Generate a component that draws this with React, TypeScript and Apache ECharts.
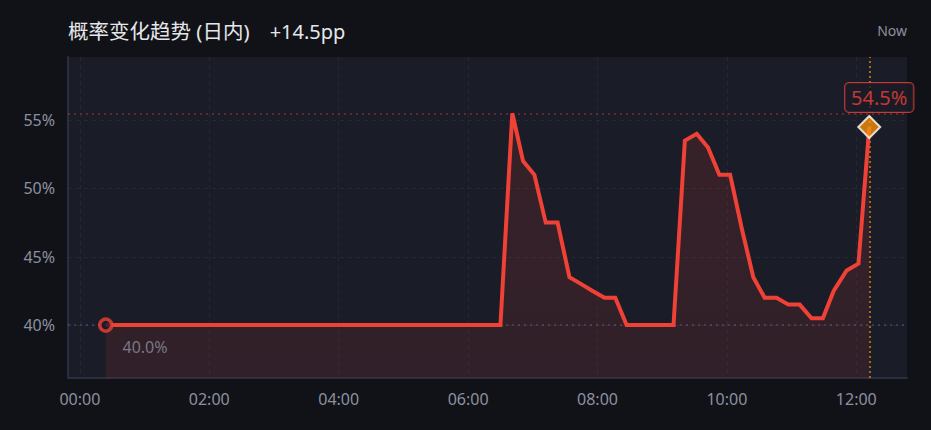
import React, { useEffect, useRef } from "react";
import * as echarts from "echarts";

// minutes since 00:00
const times = [24, 390, 401, 411, 421.5, 432, 443, 454, 465, 475.5, 486.5, 496.5, 507, 550.5, 561, 572, 582.5, 593, 603, 614, 624.5, 635, 646, 657, 667.5, 678.5, 689, 699, 711, 722, 732];
// probability, %
const values = [40, 40, 55.5, 52, 51, 47.5, 47.5, 43.5, 43, 42.5, 42, 42, 40, 40, 53.5, 54, 53, 51, 51, 47, 43.5, 42, 42, 41.5, 41.5, 40.5, 40.5, 42.5, 44, 44.5, 54.5];
const xTicks = [0, 120, 240, 360, 480, 600, 720];
const yTicks = [40, 45, 50, 55];
const titleText = "概率变化趋势 (日内)";
const changeText = "+14.5pp";
const nowText = "Now";

const FONT = "'Noto Sans', 'Noto Sans CJK SC', sans-serif";
const RED = "#ef4136";
const GRAY = "#8b90a0";

const fmtTime = (m: number) => {
  const h = Math.floor(m / 60);
  const mm = Math.round(m - h * 60);
  return `${String(h).padStart(2, "0")}:${String(mm).padStart(2, "0")}`;
};

export default function App() {
  const ref = useRef<HTMLDivElement>(null);
  useEffect(() => {
    document.body.style.margin = "0";
    document.body.style.background = "#111217";
    const chart = echarts.init(ref.current!, null, { renderer: "svg" });
    const lineData = times.map((t, i) => [t, values[i]]);
    const n = times.length - 1;
    const maxV = Math.max(...values);
    chart.setOption({
      animation: false,
      backgroundColor: "#111217",
      textStyle: { fontFamily: FONT },
      title: {
        left: 68,
        top: 21,
        padding: 0,
        text: `{a|${titleText}}{b|${changeText}}`,
        textStyle: {
          fontWeight: "normal",
          rich: {
            a: { fontSize: 20.5, color: "#e6e7ea", fontFamily: FONT, fontWeight: "normal" },
            b: { fontSize: 20, color: "#e6e7ea", fontFamily: FONT, fontWeight: "normal", padding: [0, 0, 0, 20] },
          },
        },
      },
      graphic: [
        {
          type: "text",
          right: 24,
          top: 23,
          style: { text: nowText, fill: GRAY, fontSize: 14, fontFamily: FONT },
        },
      ],
      grid: {
        left: 68,
        right: 24,
        top: 57,
        bottom: 52,
        show: true,
        backgroundColor: "#1a1c27",
        borderWidth: 0,
      },
      xAxis: {
        type: "value",
        min: -11,
        max: 767,
        axisLine: { show: true, onZero: false, lineStyle: { color: "#2b2e3c", width: 2 } },
        axisTick: { show: false, customValues: xTicks },
        axisLabel: {
          customValues: xTicks,
          color: GRAY,
          fontSize: 16,
          margin: 13,
          formatter: (v: number) => fmtTime(v),
        },
        splitLine: { show: true, lineStyle: { color: "rgba(255,255,255,0.05)", type: [4, 4] } },
      },
      yAxis: {
        type: "value",
        min: 36.13,
        max: 59.62,
        axisLine: { show: true, onZero: false, lineStyle: { color: "#2b2e3c", width: 2 } },
        axisTick: { show: false, customValues: yTicks },
        axisLabel: {
          customValues: yTicks,
          color: GRAY,
          fontSize: 16,
          margin: 13,
          formatter: "{value}%",
        },
        splitLine: { show: true, lineStyle: { color: "rgba(255,255,255,0.05)", type: [4, 4] } },
      },
      series: [
        {
          type: "line",
          data: lineData,
          symbol: "none",
          lineStyle: { color: RED, width: 4, join: "miter" },
          areaStyle: {
            color: new echarts.graphic.LinearGradient(0, 0, 0, 1, [
              { offset: 0, color: "rgba(239,65,54,0.2)" },
              { offset: 1, color: "rgba(239,65,54,0.15)" },
            ]),
            origin: "start",
          },
          z: 3,
          markLine: {
            silent: true,
            symbol: "none",
            label: { show: false },
            z: 2,
            data: [
              { yAxis: maxV, lineStyle: { color: "rgba(239,65,54,0.45)", type: [2, 4], width: 1.5 } },
              { yAxis: values[0], lineStyle: { color: "rgba(110,120,210,0.45)", type: [2, 4], width: 1.5 } },
              { xAxis: times[n], lineStyle: { color: "#d9820e", type: [2, 3], width: 1.5 } },
            ],
          },
        },
        {
          type: "scatter",
          z: 5,
          data: [
            {
              value: [times[0], values[0]],
              symbol: "circle",
              symbolSize: 12,
              itemStyle: { color: "#1a1c27", borderColor: RED, borderWidth: 3.5 },
              label: {
                show: true,
                position: "right",
                distance: 5,
                offset: [4, 22],
                color: GRAY,
                fontSize: 16,
                formatter: () => `${values[0].toFixed(1)}%`,
              },
            },
            {
              value: [times[n], values[n]],
              symbol: "diamond",
              symbolSize: 22,
              itemStyle: { color: "#f5900b", borderColor: "#ffffff", borderWidth: 2 },
              label: {
                show: true,
                position: "top",
                distance: 3,
                offset: [10, 0],
                color: RED,
                fontSize: 20,
                backgroundColor: "#1a1c27",
                borderColor: RED,
                borderWidth: 1,
                borderRadius: 4,
                padding: [5, 6, 4, 6],
                formatter: () => `${values[n].toFixed(1)}%`,
              },
            },
          ],
        },
      ],
    });
    return () => chart.dispose();
  }, []);
  return <div ref={ref} style={{ width: 931, height: 430 }} />;
}
